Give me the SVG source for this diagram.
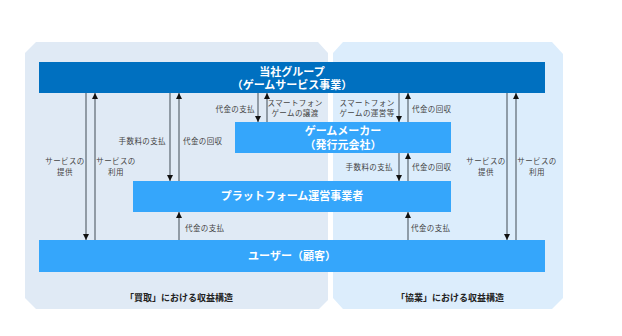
<svg xmlns="http://www.w3.org/2000/svg" width="622" height="336" viewBox="0 0 622 336">
<style>
.box{fill:#35a6fb}
.top{fill:#0070c0}
.bt{font-family:"Noto Sans CJK JP","Noto Sans",sans-serif;font-weight:bold;font-size:11px;fill:#fff;text-anchor:middle}
.lb{font-family:"Noto Sans CJK JP","Noto Sans",sans-serif;font-size:7.5px;fill:#444;letter-spacing:0.4px}
.ttl{font-family:"Noto Sans CJK JP","Noto Sans",sans-serif;font-weight:bold;font-size:9px;fill:#222;text-anchor:middle}
.ln{stroke:#5b6670;stroke-width:1.2;fill:none}
</style>
<defs>
<marker id="ah" viewBox="0 0 6 6" refX="6" refY="3" markerWidth="6" markerHeight="6" markerUnits="userSpaceOnUse" orient="auto">
<path d="M0,0 L6,3 L0,6 Z" fill="#111"/>
</marker>
</defs>
<g id="panels">
<polygon points="36,42 318,42 328,53 328,300 319,309 36,309 25,298 25,53" fill="#e0eaf5"/>
<polygon points="343,42 552,42 563,54 563,298 552,309 343,309 333,298 333,53" fill="#dcedfc"/>
</g>
<g id="node-group">
<rect class="top" x="39" y="62" width="506" height="31"/>
<text class="bt"><tspan x="292" y="76">当社グループ</tspan><tspan x="292" y="89">（ゲームサービス事業）</tspan></text>
</g>
<g id="node-maker">
<rect class="box" x="235" y="122" width="216" height="31"/>
<text class="bt"><tspan x="343" y="135">ゲームメーカー</tspan><tspan x="343" y="149">（発行元会社）</tspan></text>
</g>
<g id="node-platform">
<rect class="box" x="133" y="181" width="318" height="31"/>
<text class="bt" x="292" y="200">プラットフォーム運営事業者</text>
</g>
<g id="node-user">
<rect class="box" x="39" y="240" width="506" height="32"/>
<text class="bt" x="292" y="260">ユーザー（顧客）</text>
</g>
<g id="connectors">
<line class="ln" x1="86" y1="93" x2="86" y2="240" marker-end="url(#ah)"/>
<line class="ln" x1="95" y1="240" x2="95" y2="93" marker-end="url(#ah)"/>
<line class="ln" x1="170" y1="93" x2="170" y2="181" marker-end="url(#ah)"/>
<line class="ln" x1="179" y1="181" x2="179" y2="93" marker-end="url(#ah)"/>
<line class="ln" x1="179" y1="240" x2="179" y2="212" marker-end="url(#ah)"/>
<line class="ln" x1="258" y1="93" x2="258" y2="122" marker-end="url(#ah)"/>
<line class="ln" x1="267" y1="122" x2="267" y2="93" marker-end="url(#ah)"/>
<line class="ln" x1="399" y1="93" x2="399" y2="122" marker-end="url(#ah)"/>
<line class="ln" x1="408" y1="122" x2="408" y2="93" marker-end="url(#ah)"/>
<line class="ln" x1="399" y1="153" x2="399" y2="181" marker-end="url(#ah)"/>
<line class="ln" x1="408" y1="181" x2="408" y2="153" marker-end="url(#ah)"/>
<line class="ln" x1="408" y1="240" x2="408" y2="212" marker-end="url(#ah)"/>
<line class="ln" x1="507" y1="93" x2="507" y2="240" marker-end="url(#ah)"/>
<line class="ln" x1="516" y1="240" x2="516" y2="93" marker-end="url(#ah)"/>
</g>
<g id="labels">
<text class="lb" x="65" y="164" text-anchor="middle">サービスの</text>
<text class="lb" x="65" y="175" text-anchor="middle">提供</text>
<text class="lb" x="116" y="164" text-anchor="middle">サービスの</text>
<text class="lb" x="116" y="175" text-anchor="middle">利用</text>
<text class="lb" x="166" y="144" text-anchor="end">手数料の支払</text>
<text class="lb" x="183" y="144">代金の回収</text>
<text class="lb" x="185" y="231">代金の支払</text>
<text class="lb" x="255" y="112" text-anchor="end">代金の支払</text>
<text class="lb" x="295" y="106" text-anchor="middle">スマートフォン</text>
<text class="lb" x="295" y="116" text-anchor="middle">ゲームの譲渡</text>
<text class="lb" x="367" y="106" text-anchor="middle">スマートフォン</text>
<text class="lb" x="367" y="116" text-anchor="middle">ゲームの運営等</text>
<text class="lb" x="412" y="112">代金の回収</text>
<text class="lb" x="393" y="170" text-anchor="end">手数料の支払</text>
<text class="lb" x="412" y="170">代金の回収</text>
<text class="lb" x="411" y="231">代金の支払</text>
<text class="lb" x="486" y="164" text-anchor="middle">サービスの</text>
<text class="lb" x="486" y="175" text-anchor="middle">提供</text>
<text class="lb" x="537" y="164" text-anchor="middle">サービスの</text>
<text class="lb" x="537" y="175" text-anchor="middle">利用</text>
<text class="ttl" x="179" y="301">「買取」における収益構造</text>
<text class="ttl" x="450" y="301">「協業」における収益構造</text>
</g>
</svg>
